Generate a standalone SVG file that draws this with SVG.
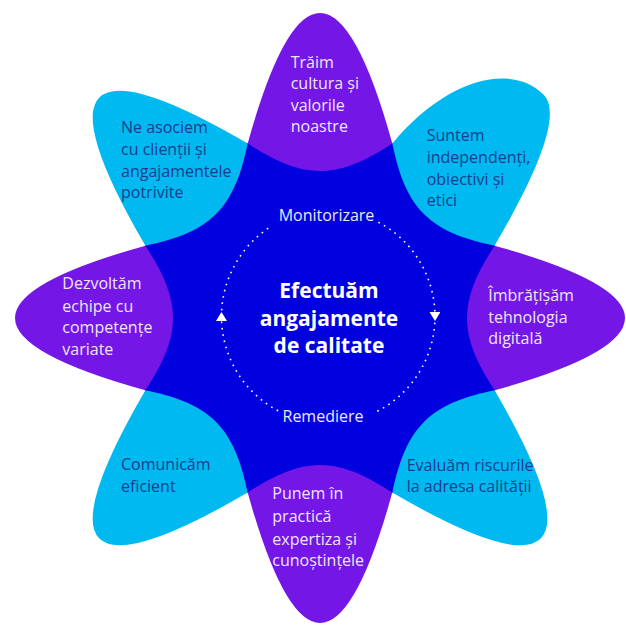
<svg xmlns="http://www.w3.org/2000/svg" xmlns:xlink="http://www.w3.org/1999/xlink" width="626" height="625" viewBox="0 0 626 625">
  <style>
    .purple { fill: #7316E6; }
    .blue { fill: #00B9F0; }
    .core { fill: #0101DF; }
    .t { font-family: "Open Sans", "Noto Sans", sans-serif; font-size: 16px; }
    .tl { fill: #EFE6FF; }
    .td { fill: #1A3C8E; }
    .title { font-family: "Open Sans", "Noto Sans", sans-serif; font-size: 21px; font-weight: 700; fill: #FFFFFF; text-anchor: middle; }
    .cyc { font-family: "Open Sans", "Noto Sans", sans-serif; font-size: 16px; fill: #ECE8FF; text-anchor: middle; }
    .dots { fill: none; stroke: #FFFFFF; stroke-width: 1.6; stroke-dasharray: 1.6 4.8; marker-mid: url(#tri); }
  </style>
  <defs>
    <path id="lobeC" d="M -72.3,-174.6 Q -36.15,-305 0,-305 Q 36.15,-305 72.3,-174.6 C 50,-160 26,-147 0,-147 C -26,-147 -50,-160 -72.3,-174.6 Z"/>
    <path id="lobeD" d="M -72.3,-174.6 Q -36.15,-312 0,-312 Q 36.15,-312 72.3,-174.6 C 50,-160 26,-147 0,-147 C -26,-147 -50,-160 -72.3,-174.6 Z"/>
    <path id="lobeD2" d="M -72.3,-174.6 C -80,-260 -45,-316 0,-316 C 24,-316 48,-268 72.3,-174.6 C 50,-160 26,-147 0,-147 C -26,-147 -50,-160 -72.3,-174.6 Z"/>
    <marker id="tri" viewBox="0 0 9 11" markerWidth="9" markerHeight="11" refX="4.5" refY="5.5" orient="auto" markerUnits="userSpaceOnUse">
      <path d="M0,0 L9,5.5 L0,11 Z" fill="#FFFFFF"/>
    </marker>
  </defs>

  <g id="core">
    <polygon class="core" points="392.5,142.9 495.1,245.5 495.1,390.5 392.5,493.1 247.5,493.1 144.9,390.5 144.9,245.5 247.5,142.9"/>
  </g>

  <g id="petal-top">
    <use xlink:href="#lobeC" href="#lobeC" class="purple" transform="translate(320 318)"/>
    <text class="t tl"><tspan x="290.7" y="67.5">Trăim</tspan><tspan x="290.7" y="89">cultura și</tspan><tspan x="290.7" y="110.5">valorile</tspan><tspan x="290.7" y="132">noastre</tspan></text>
  </g>
  <g id="petal-top-right">
    <use xlink:href="#lobeD2" href="#lobeD2" class="blue" transform="translate(320 318) rotate(45)"/>
    <text class="t td"><tspan x="426.7" y="141">Suntem</tspan><tspan x="426.7" y="163">independenți,</tspan><tspan x="426.7" y="184.5">obiectivi și</tspan><tspan x="426.7" y="206">etici</tspan></text>
  </g>
  <g id="petal-right">
    <use xlink:href="#lobeC" href="#lobeC" class="purple" transform="translate(320 318) rotate(90)"/>
    <text class="t tl"><tspan x="488.3" y="301">Îmbrățișăm</tspan><tspan x="488.3" y="322.7">tehnologia</tspan><tspan x="488.3" y="344">digitală</tspan></text>
  </g>
  <g id="petal-bottom-right">
    <use xlink:href="#lobeD" href="#lobeD" class="blue" transform="translate(320 318) rotate(135)"/>
    <text class="t td"><tspan x="406.7" y="470.7">Evaluăm riscurile</tspan><tspan x="406.7" y="491.7">la adresa calității</tspan></text>
  </g>
  <g id="petal-bottom">
    <use xlink:href="#lobeC" href="#lobeC" class="purple" transform="translate(320 318) rotate(180)"/>
    <text class="t tl"><tspan x="272.3" y="499.3">Punem în</tspan><tspan x="272.3" y="522">practică</tspan><tspan x="272.3" y="544.5">expertiza și</tspan><tspan x="272.3" y="566">cunoștințele</tspan></text>
  </g>
  <g id="petal-bottom-left">
    <use xlink:href="#lobeD" href="#lobeD" class="blue" transform="translate(320 318) rotate(225)"/>
    <text class="t td"><tspan x="121" y="470">Comunicăm</tspan><tspan x="121" y="491.7">eficient</tspan></text>
  </g>
  <g id="petal-left">
    <use xlink:href="#lobeC" href="#lobeC" class="purple" transform="translate(320 318) rotate(270)"/>
    <text class="t tl"><tspan x="62.3" y="289.3">Dezvoltăm</tspan><tspan x="62.3" y="311.7">echipe cu</tspan><tspan x="62.3" y="333.3">competențe</tspan><tspan x="62.3" y="355">variate</tspan></text>
  </g>
  <g id="petal-top-left">
    <use xlink:href="#lobeD" href="#lobeD" class="blue" transform="translate(320 318) rotate(315)"/>
    <text class="t td"><tspan x="121" y="133.3">Ne asociem</tspan><tspan x="121" y="155">cu clienții și</tspan><tspan x="121" y="176.7">angajamentele</tspan><tspan x="121" y="198.3">potrivite</tspan></text>
  </g>

  <g id="center">
    <text class="title"><tspan x="329" y="298.3">Efectuăm</tspan><tspan x="329" y="325.8">angajamente</tspan><tspan x="329" y="353.3">de calitate</tspan></text>
  </g>
  <g id="label-monitorizare">
    <text class="cyc" x="326.5" y="221">Monitorizare</text>
  </g>
  <g id="label-remediere">
    <text class="cyc" x="323" y="422">Remediere</text>
  </g>

  <g id="connectors">
    <path class="dots" d="M 378.4,222.2 A 106.75 106.75 0 0 1 435,316.5 A 106.75 106.75 0 0 1 373.4,413.2"/>
    <path class="dots" d="M 278.1,410.8 A 106.75 106.75 0 0 1 221.5,316.5 A 106.75 106.75 0 0 1 271.7,226"/>
  </g>
</svg>
